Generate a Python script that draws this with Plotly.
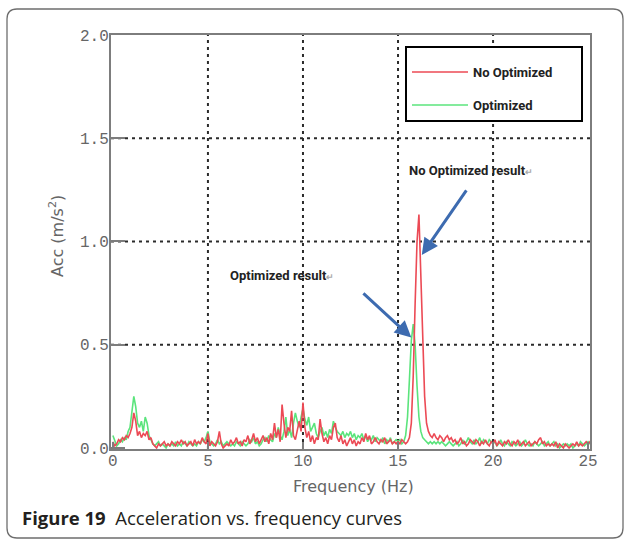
import plotly.graph_objects as go

# ---------------- data ----------------
freq = [round(i * 0.1, 1) for i in range(253)]  # 0.0 .. 25.2 Hz

no_optimized = [
    0.03, 0.01, 0.02, 0.04, 0.03, 0.05, 0.04, 0.06, 0.05, 0.07,
    0.10, 0.17, 0.13, 0.06, 0.08, 0.05, 0.07, 0.06, 0.08, 0.04,
    0.05, 0.02, 0.01, 0.00, 0.02, 0.01, 0.02, 0.03, 0.01, 0.02,
    0.01, 0.03, 0.02, 0.01, 0.03, 0.02, 0.04, 0.02, 0.03, 0.01,
    0.02, 0.03, 0.01, 0.04, 0.02, 0.03, 0.02, 0.05, 0.03, 0.02,
    0.07, 0.01, 0.03, 0.02, 0.01, 0.03, 0.08, 0.02, 0.00, 0.01,
    0.02, 0.01, 0.04, 0.02, 0.03, 0.05, 0.02, 0.03, 0.01, 0.04,
    0.03, 0.06, 0.02, 0.04, 0.07, 0.03, 0.05, 0.02, 0.04, 0.06,
    0.03, 0.05, 0.02, 0.07, 0.04, 0.12, 0.05, 0.09, 0.03, 0.21,
    0.12, 0.05, 0.10, 0.08, 0.18, 0.06, 0.04, 0.09, 0.13, 0.08,
    0.22, 0.10, 0.05, 0.08, 0.03, 0.06, 0.02, 0.05, 0.04, 0.14,
    0.07, 0.03, 0.05, 0.02, 0.06, 0.04, 0.10, 0.12, 0.05, 0.03,
    0.06, 0.02, 0.04, 0.01, 0.03, 0.05, 0.02, 0.04, 0.01, 0.03,
    0.02, 0.05, 0.03, 0.07, 0.04, 0.06, 0.02, 0.03, 0.05, 0.03,
    0.02, 0.04, 0.03, 0.05, 0.02, 0.03, 0.04, 0.02, 0.03, 0.02,
    0.03, 0.02, 0.04, 0.03, 0.02, 0.03, 0.05, 0.12, 0.35, 0.70,
    1.00, 1.13, 0.85, 0.50, 0.25, 0.12, 0.08, 0.06, 0.05, 0.07,
    0.05, 0.04, 0.06, 0.05, 0.03, 0.05, 0.06, 0.04, 0.05, 0.03,
    0.04, 0.02, 0.03, 0.05, 0.02, 0.03, 0.01, 0.02, 0.04, 0.03,
    0.02, 0.04, 0.03, 0.01, 0.03, 0.02, 0.04, 0.02, 0.01, 0.03,
    0.02, 0.04, 0.01, 0.03, 0.02, 0.01, 0.03, 0.02, 0.04, 0.02,
    0.01, 0.03, 0.02, 0.04, 0.01, 0.02, 0.03, 0.01, 0.02, 0.03,
    0.01, 0.02, 0.03, 0.02, 0.04, 0.05, 0.02, 0.03, 0.01, 0.02,
    0.01, 0.02, 0.01, 0.03, 0.00, 0.02, 0.01, 0.00, 0.02, 0.01,
    0.00, 0.01, 0.02, 0.01, 0.03, 0.01, 0.02, 0.01, 0.02, 0.03,
    0.02, 0.03, 0.02,
]

optimized = [
    0.06, 0.03, 0.01, 0.02, 0.04, 0.03, 0.05, 0.04, 0.08, 0.10,
    0.18, 0.25, 0.20, 0.12, 0.10, 0.13, 0.08, 0.15, 0.12, 0.06,
    0.04, 0.02, 0.01, 0.02, 0.03, 0.01, 0.02, 0.01, 0.00, 0.02,
    0.01, 0.02, 0.01, 0.03, 0.01, 0.02, 0.01, 0.03, 0.02, 0.01,
    0.03, 0.02, 0.01, 0.02, 0.01, 0.03, 0.02, 0.04, 0.03, 0.05,
    0.08, 0.03, 0.02, 0.01, 0.02, 0.04, 0.02, 0.03, 0.01, 0.02,
    0.03, 0.02, 0.01, 0.02, 0.01, 0.03, 0.02, 0.01, 0.03, 0.02,
    0.01, 0.02, 0.04, 0.03, 0.05, 0.02, 0.03, 0.01, 0.02, 0.04,
    0.05, 0.03, 0.06, 0.04, 0.03, 0.07, 0.05, 0.10, 0.06, 0.04,
    0.08, 0.15, 0.06, 0.09, 0.05, 0.12, 0.17, 0.13, 0.10, 0.15,
    0.19, 0.14, 0.11, 0.15, 0.08, 0.10, 0.12, 0.07, 0.05, 0.08,
    0.10, 0.06, 0.08, 0.05, 0.09, 0.07, 0.13, 0.10, 0.08, 0.07,
    0.06, 0.08, 0.05, 0.07, 0.06, 0.08, 0.05, 0.07, 0.04, 0.06,
    0.05, 0.07, 0.04, 0.06, 0.03, 0.05, 0.04, 0.06, 0.03, 0.05,
    0.04, 0.03, 0.05, 0.02, 0.04, 0.03, 0.05, 0.02, 0.03, 0.04,
    0.03, 0.04, 0.02, 0.03, 0.06, 0.15, 0.33, 0.52, 0.60, 0.50,
    0.30, 0.15, 0.08, 0.05, 0.04, 0.03, 0.02, 0.03, 0.02, 0.03,
    0.02, 0.03, 0.02, 0.03, 0.02, 0.01, 0.02, 0.03, 0.02, 0.01,
    0.02, 0.03, 0.01, 0.02, 0.04, 0.02, 0.03, 0.05, 0.03, 0.02,
    0.04, 0.02, 0.03, 0.05, 0.02, 0.04, 0.03, 0.02, 0.04, 0.03,
    0.02, 0.03, 0.01, 0.02, 0.04, 0.02, 0.01, 0.03, 0.02, 0.01,
    0.03, 0.02, 0.01, 0.02, 0.03, 0.01, 0.02, 0.04, 0.02, 0.01,
    0.02, 0.01, 0.03, 0.02, 0.01, 0.02, 0.03, 0.01, 0.02, 0.03,
    0.01, 0.02, 0.03, 0.01, 0.02, 0.00, 0.01, 0.02, 0.01, 0.02,
    0.01, 0.02, 0.00, 0.01, 0.02, 0.01, 0.03, 0.02, 0.01, 0.02,
    0.03, 0.02, 0.03,
]

x_ticks = [0, 5, 10, 15, 20, 25]
y_ticks = [0.0, 0.5, 1.0, 1.5, 2.0]
y_tick_text = ["0.0", "0.5", "1.0", "1.5", "2.0"]
x_grid = [5, 10, 15, 20]
y_grid = [0.5, 1.0, 1.5]

# ---------------- layout geometry ----------------
W, H = 624, 540
ML, MR, MT, MB = 111, 34, 35, 91
PW, PH = W - ML - MR, H - MT - MB


def px(x):  # pixel -> paper x
    return (x - ML) / PW


def py(y):  # pixel -> paper y
    return (H - MB - y) / PH


X_RANGE = [-0.1, 25.1]
Y_RANGE = [-0.005, 2.0]

RED = "#ec4a55"
GREEN = "#5be47c"
ANN_FONT = "Liberation Sans Narrow, Roboto, Arial, sans-serif"
NBSP = "&nbsp;"

fig = go.Figure()
fig.add_trace(go.Scatter(
    x=freq, y=optimized, mode="lines", name="Optimized" + NBSP * 10,
    line=dict(color=GREEN, width=1.6), legendrank=2, legendgroup="b",
))
fig.add_trace(go.Scatter(
    x=freq, y=no_optimized, mode="lines", name="No Optimized" + NBSP * 7,
    line=dict(color=RED, width=1.6), legendrank=1, legendgroup="a",
))

tick_font = dict(family="Liberation Mono, DejaVu Sans Mono, monospace", size=16, color="#666666")
axis_common = dict(showline=True, linecolor="#7d7d7d", linewidth=2, mirror=True,
                   showgrid=False, zeroline=False, ticks="inside",
                   tickcolor="#7d7d7d", tickwidth=2, tickfont=tick_font)

fig.update_layout(
    width=W, height=H,
    margin=dict(l=ML, r=MR, t=MT, b=MB, pad=0),
    paper_bgcolor="white", plot_bgcolor="white",
    xaxis=dict(range=X_RANGE, tickvals=x_ticks, ticklen=7, ticklabelstandoff=-4, **axis_common),
    yaxis=dict(range=Y_RANGE, tickvals=y_ticks, ticktext=y_tick_text, ticklen=14,
               ticklabelstandoff=-3, **axis_common),
    showlegend=True,
    legend=dict(
        x=px(405), y=py(46), xanchor="left", yanchor="top",
        bgcolor="white", bordercolor="black", borderwidth=2,
        font=dict(family=ANN_FONT, size=13, color="#222222", weight="bold"),
        itemwidth=56, tracegroupgap=13,
        title=dict(text=" ", font=dict(size=7)),
    ),
)

# dotted grid lines at the grid tick values
for v in x_grid:
    fig.add_shape(type="line", x0=v, x1=v, y0=0, y1=1, xref="x", yref="paper",
                  line=dict(color="#2b2b2b", width=2, dash="3px,4px"), layer="below")
for v in y_grid:
    fig.add_shape(type="line", x0=0, x1=1, y0=v, y1=v, xref="paper", yref="y",
                  line=dict(color="#2b2b2b", width=2, dash="3px,4px"), layer="below")

# outer rounded frame
x0, x1, yt, yb, r = 7, 623, 9, 538, 10
path = (f"M {px(x0 + r)},{py(yt)} L {px(x1 - r)},{py(yt)} "
        f"Q {px(x1)},{py(yt)} {px(x1)},{py(yt + r)} L {px(x1)},{py(yb - r)} "
        f"Q {px(x1)},{py(yb)} {px(x1 - r)},{py(yb)} L {px(x0 + r)},{py(yb)} "
        f"Q {px(x0)},{py(yb)} {px(x0)},{py(yb - r)} L {px(x0)},{py(yt + r)} "
        f"Q {px(x0)},{py(yt)} {px(x0 + r)},{py(yt)} Z")
fig.add_shape(type="path", path=path, xref="paper", yref="paper",
              line=dict(color="#6e6e6e", width=1.3), layer="below")

# axis titles
fig.add_annotation(text="Acc (m/s<sup>2</sup>)", xref="paper", yref="paper",
                   x=px(56), y=py(236), xanchor="center", yanchor="middle",
                   textangle=-90, showarrow=False,
                   font=dict(family="DejaVu Sans, sans-serif", size=16, color="#666666"))
fig.add_annotation(text="Frequency (Hz)", xref="paper", yref="paper",
                   x=px(353), y=py(486), xanchor="center", yanchor="middle", showarrow=False,
                   font=dict(family="DejaVu Sans, sans-serif", size=16, color="#666666"))

# caption
fig.add_annotation(text="<b>Figure 19</b>  Acceleration vs. frequency curves",
                   xref="paper", yref="paper", x=px(20), y=py(517),
                   xanchor="left", yanchor="middle", showarrow=False,
                   font=dict(family="Open Sans, sans-serif", size=18.5, color="#231f20"))

# callouts
mark = "<span style='color:#aaaaaa;font-size:9px'>↵</span>"
fig.add_annotation(text="No Optimized result" + mark, xref="paper", yref="paper",
                   x=px(407), y=py(170), xanchor="left", yanchor="middle", showarrow=False,
                   font=dict(family=ANN_FONT, size=13, color="#222222", weight="bold"))
fig.add_annotation(text="Optimized result" + mark, xref="paper", yref="paper",
                   x=px(228), y=py(275), xanchor="left", yanchor="middle", showarrow=False,
                   font=dict(family=ANN_FONT, size=13, color="#222222", weight="bold"))

ARROW = "#3d6bb0"
fig.add_annotation(x=16.25, y=0.935, ax=18.65, ay=1.255, xref="x", yref="y",
                   axref="x", ayref="y", text="", showarrow=True,
                   arrowhead=2, arrowsize=1.1, arrowwidth=3, arrowcolor=ARROW)
fig.add_annotation(x=15.7, y=0.535, ax=13.1, ay=0.755, xref="x", yref="y",
                   axref="x", ayref="y", text="", showarrow=True,
                   arrowhead=2, arrowsize=1.1, arrowwidth=3, arrowcolor=ARROW)

fig.write_html("out.html")
